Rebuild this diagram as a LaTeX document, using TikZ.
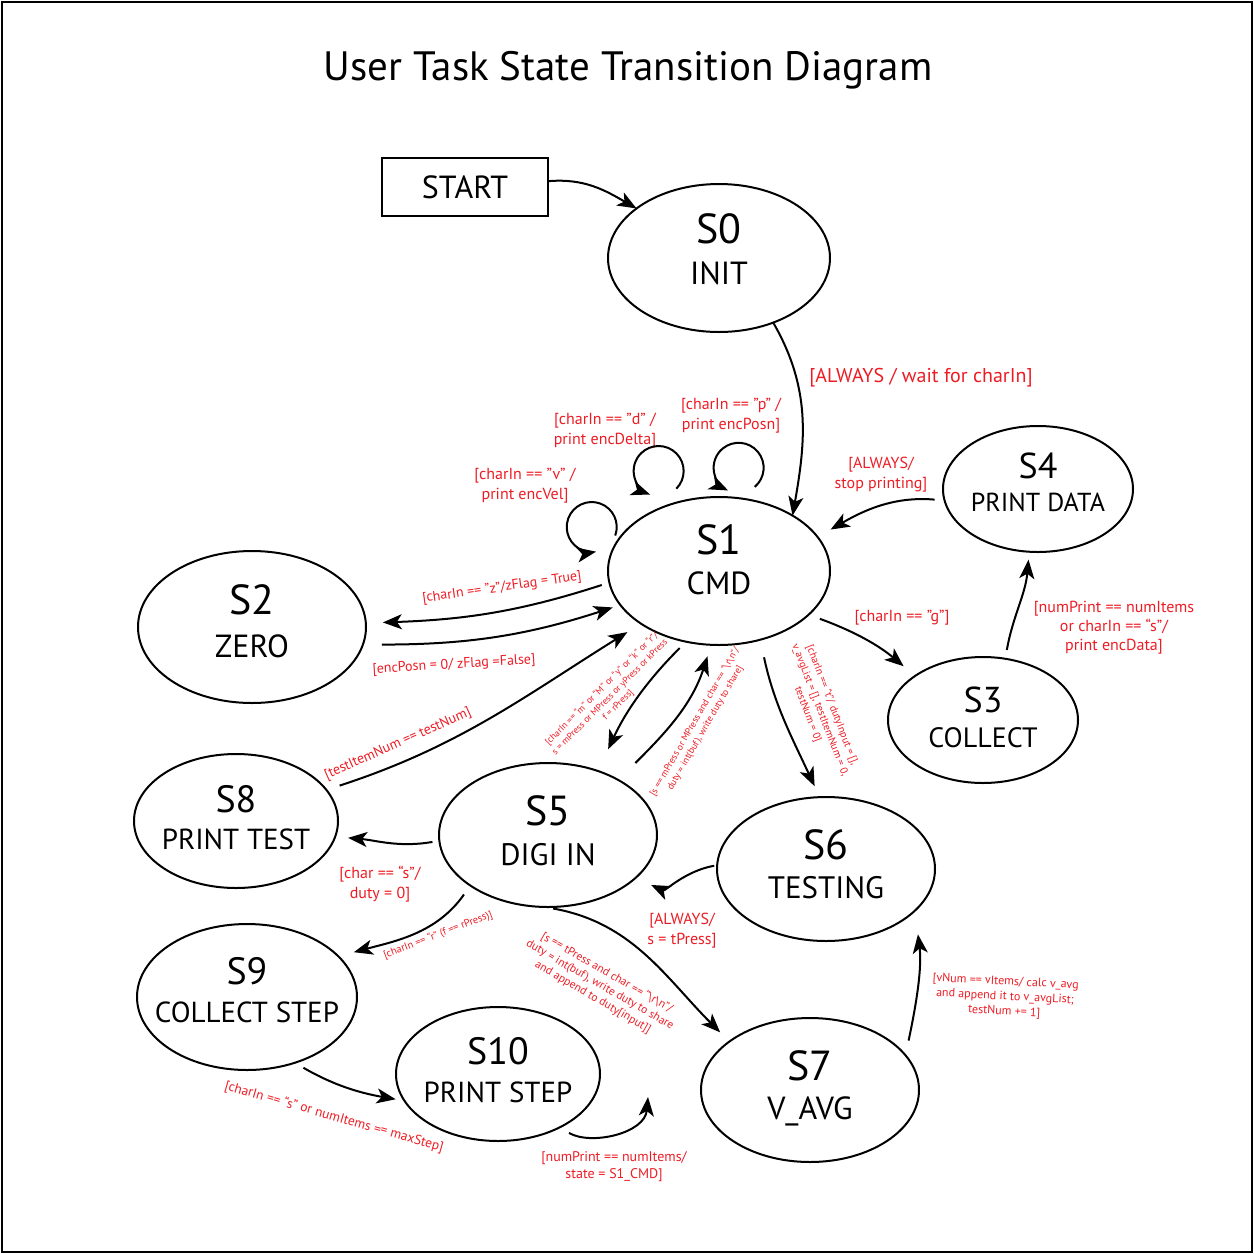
\documentclass[tikz,border=0pt]{standalone}
\usepackage{fontspec}
\setmainfont{PT Sans}
\usetikzlibrary{arrows.meta,shapes.geometric}
\definecolor{lred}{RGB}{237,28,36}
\begin{document}
\begin{tikzpicture}[x=1pt,y=1pt,
  st/.style={draw,ellipse,line width=2pt,inner sep=0pt,outer sep=0pt},
  arr/.style={line width=2pt,-{Stealth[length=19pt,width=15pt,inset=5pt]}},
  lbl/.style 2 args={text=lred,align=center,inner sep=0pt,font=\fontsize{#1}{#2}\selectfont},
  tx/.style 2 args={inner sep=0pt,font=\fontsize{#1}{#1}\selectfont,text height=#2,text depth=0pt}]
\useasboundingbox (0,0) rectangle (1254,-1254);
\draw[line width=2pt] (2,-2) rectangle (1252,-1252);
\node[tx={41}{28.7pt}] (title) at (628,-66) {User Task State Transition Diagram};
% START
\node[draw,line width=2pt,minimum width=166pt,minimum height=58pt,inner sep=0pt,outer sep=0pt,font=\fontsize{32}{32}\selectfont] (start) at (465,-187) {START};
% states
\node[st,minimum width=222pt,minimum height=148pt] (s0) at (719,-258) {};
\node[tx={42}{29.4pt}] (s0a) at (719,-229) {S0};
\node[tx={32}{22.4pt}] (s0b) at (719,-273) {INIT};
\node[st,minimum width=222pt,minimum height=148pt] (s1) at (719,-571) {};
\node[tx={42}{29.4pt}] (s1a) at (719,-540) {S1};
\node[tx={32}{22.4pt}] (s1b) at (719,-583) {CMD};
\node[st,minimum width=228pt,minimum height=152pt] (s2) at (252,-627) {};
\node[tx={42}{29.4pt}] (s2a) at (252,-600) {S2};
\node[tx={32}{22.4pt}] (s2b) at (252,-646) {ZERO};
\node[st,minimum width=190pt,minimum height=126pt] (s4) at (1038,-489) {};
\node[tx={36}{25.2pt}] (s4a) at (1038,-466) {S4};
\node[tx={26}{18.2pt}] (s4b) at (1038,-502) {PRINT DATA};
\node[st,minimum width=190pt,minimum height=126pt] (s3) at (983,-720) {};
\node[tx={36}{25.2pt}] (s3a) at (983,-700) {S3};
\node[tx={28}{19.6pt}] (s3b) at (983,-738) {COLLECT};
\node[st,minimum width=204pt,minimum height=134pt] (s8) at (236,-821) {};
\node[tx={38}{26.6pt}] (s8a) at (236,-799) {S8};
\node[tx={29}{20.3pt}] (s8b) at (236,-839) {PRINT TEST};
\node[st,minimum width=218pt,minimum height=144pt] (s5) at (548,-835) {};
\node[tx={42}{29.4pt}] (s5a) at (548,-811) {S5};
\node[tx={31}{21.7pt}] (s5b) at (548,-855) {DIGI IN};
\node[st,minimum width=218pt,minimum height=144pt] (s6) at (826,-869) {};
\node[tx={42}{29.4pt}] (s6a) at (826,-845) {S6};
\node[tx={31}{21.7pt}] (s6b) at (826,-888) {TESTING};
\node[st,minimum width=220pt,minimum height=146pt] (s9) at (247,-997) {};
\node[tx={38}{26.6pt}] (s9a) at (247,-971) {S9};
\node[tx={29}{20.3pt}] (s9b) at (247,-1012) {COLLECT STEP};
\node[st,minimum width=204pt,minimum height=134pt] (s10) at (498,-1074) {};
\node[tx={38}{26.6pt}] (s10a) at (498,-1051) {S10};
\node[tx={29}{20.3pt}] (s10b) at (498,-1092) {PRINT STEP};
\node[st,minimum width=218pt,minimum height=144pt] (s7) at (810,-1090) {};
\node[tx={42}{29.4pt}] (s7a) at (810,-1066) {S7};
\node[tx={32}{22.4pt}] (s7b) at (810,-1108) {V\_AVG};
% labels
\node[lbl={20}{24}] (l0) at (921,-378) {[ALWAYS / wait for charIn]};
\node[lbl={16}{20}] (lp) at (731,-416) {[charIn == ”p” /\\print encPosn]};
\node[lbl={16}{20}] (ld) at (605,-431) {[charIn == ”d” /\\print encDelta]};
\node[lbl={16}{20}] (lv) at (525,-486) {[charIn == ”v” /\\print encVel]};
\node[lbl={16}{20}] (l4) at (881,-475) {[ALWAYS/\\stop printing]};
\node[lbl={14}{17},rotate=8] (lz) at (502,-588) {[charIn == ”z”/zFlag = True]};
\node[lbl={14}{17},rotate=3.5] (le) at (454,-665) {[encPosn = 0/ zFlag =False]};
\node[lbl={16}{20}] (lg) at (902,-618) {[charIn == ”g”]};
\node[lbl={16}{19}] (ln) at (1114,-628) {[numPrint == numItems\\or charIn == “s”/\\print encData]};
\node[lbl={9.3}{11.5},rotate=45] (lm) at (610,-697) {[charIn == “m” or “M” or “y” or “k” or “r”/\\s = mPress or MPress or yPress or kPress\\f = rPress]};
\node[lbl={9.5}{12},rotate=60] (lsm) at (700,-725) {[s == mPress or MPress and char == “\textbackslash r\textbackslash n”/\\duty = int(buf), write duty to share]};
\node[lbl={10.5}{13},rotate=-69] (lt) at (820,-710) {[charIn == “t”/ dutyInput = [],\\v\_avgList = [], testItemNum = 0,\\testNum = 0]};
\node[lbl={14}{17},rotate=24] (lti) at (398,-744) {[testItemNum == testNum]};
\node[lbl={16}{20}] (lc) at (380,-884) {[char == “s”/\\duty = 0]};
\node[lbl={10.5}{13},rotate=21] (lr) at (438,-935) {[charIn == “r” (f == rPress)]};
\node[lbl={16}{20}] (la) at (682,-931) {[ALWAYS/\\s = tPress]};
\node[lbl={11.5}{14},rotate=-30] (ltp) at (600,-985) {[s == tPress and char == “\textbackslash r\textbackslash n”/\\duty = int(buf), write duty to share\\and append to duty[input]]};
\node[lbl={12}{15},rotate=-3] (lvn) at (1005,-997) {[vNum == vItems/ calc v\_avg\\and append it to v\_avgList;\\testNum += 1]};
\node[lbl={13.5}{16},rotate=-16] (lcs) at (334,-1117) {[charIn == “s” or numItems == maxStep]};
\node[lbl={14}{17}] (lnp) at (614,-1167) {[numPrint == numItems/\\state = S1\_CMD]};
% connectors
\draw[arr] (start.4) to[out=5,in=150] (s0.149);
\draw[arr] (s0.-50) to[out=-60,in=80] (s1.37);
\draw[arr,shorten <=10pt,shorten >=15pt] (s4.187) to[out=175,in=30] (s1.19);
\draw[arr,shorten <=12pt,shorten >=15pt] (s1.-26) to[out=-20,in=140] (s3.147);
\draw[arr,shorten <=9pt,shorten >=8pt] (s3.70) to[out=80,in=-95] (s4.-98);
\draw[arr,shorten <=18pt,shorten >=12pt] (s1.-59) to[out=-78,in=115] (s6.95);
\draw[arr,shorten <=9pt,shorten >=24pt] (s1.-115) to[out=-135,in=65] (s5.52);
\draw[arr,shorten <=24pt,shorten >=12pt] (s5.38) to[out=45,in=-108] (s1.-96);
\draw[arr,shorten <=8pt,shorten >=17pt] (s1.186) to[out=198,in=2] (s2.2);
\draw[arr,shorten <=19pt,shorten >=8pt] (s2.-9) to[out=0,in=198] (s1.199);
\draw[arr,shorten <=14pt,shorten >=16pt] (s8.19) to[out=18,in=212] (s1.214);
\draw[arr,shorten <=7pt,shorten >=13pt] (s5.183) to[out=190,in=-5] (s8.-9);
\draw[arr,shorten <=3pt,shorten >=17pt] (s6.178) to[out=190,in=-25] (s5.-26);
\draw[arr,shorten <=11pt,shorten >=16pt] (s5.213) to[out=-125,in=15] (s9.24);
\draw[arr,shorten <=9pt,shorten >=13pt] (s5.-93) to[out=-10,in=135] (s7.149);
\draw[arr,shorten <=15pt,shorten >=24pt] (s7.20) to[out=78,in=-83] (s6.-25);
\draw[arr,shorten <=10pt,shorten >=9pt] (s9.-54) to[out=-30,in=170] (s10.196);
\coordinate (s10x) at (648,-1097);
\draw[arr,shorten <=11pt] (s10.-41) to[out=-30,in=-95] (s10x);
% self loops on S1
\draw[arr] (s1.122) ++(0,14) arc[start angle=-45,end angle=250,radius=25pt];
\draw[arr] (s1.63) ++(0,14) arc[start angle=-50,end angle=245,radius=25pt];
\draw[arr] (s1.162) ++(-4,3) arc[start angle=-20,end angle=280,radius=25pt];
\end{tikzpicture}
\end{document}
